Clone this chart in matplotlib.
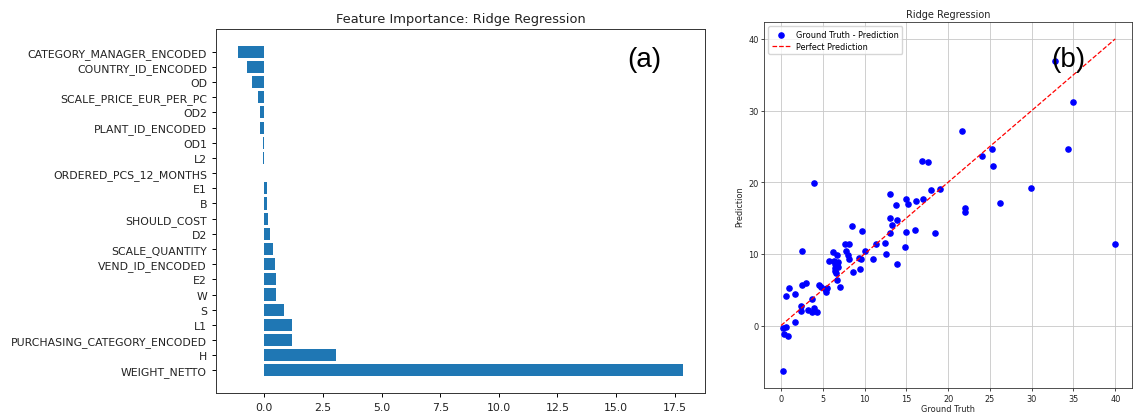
import matplotlib
matplotlib.use("Agg")
import matplotlib.pyplot as plt
import numpy as np

# Ridge regression coefficients (top to bottom)
features = [
    "CATEGORY_MANAGER_ENCODED", "COUNTRY_ID_ENCODED", "OD", "SCALE_PRICE_EUR_PER_PC",
    "OD2", "PLANT_ID_ENCODED", "OD1", "L2", "ORDERED_PCS_12_MONTHS", "E1", "B",
    "SHOULD_COST", "D2", "SCALE_QUANTITY", "VEND_ID_ENCODED", "E2", "W", "S", "L1",
    "PURCHASING_CATEGORY_ENCODED", "H", "WEIGHT_NETTO",
]
coefficients = [
    -1.12, -0.75, -0.51, -0.26, -0.20, -0.19, -0.08, -0.07, 0.0, 0.12, 0.13,
    0.16, 0.24, 0.38, 0.46, 0.51, 0.50, 0.85, 1.17, 1.19, 3.04, 17.85,
]

# Test-set ground truth vs. prediction
ground_truth = [
    32.8, 35.0, 21.6, 34.4, 25.3, 24.0, 25.4, 29.9, 26.2, 22.0, 22.0, 40.0,
    4.0, 16.9, 17.6, 17.9, 19.0, 13.0, 14.9, 15.2, 16.1, 17.0, 13.8, 13.0,
    13.9, 13.3, 13.0, 14.9, 16.0, 18.4, 9.7, 11.4, 12.5, 14.8, 10.0, 12.6,
    11.0, 13.9, 2.5, 8.5, 7.7, 8.1, 7.8, 6.2, 6.7, 8.0, 8.1, 9.3, 9.6,
    5.8, 6.3, 6.8, 6.5, 6.4, 6.7, 6.85, 6.45, 6.6, 9.4, 8.65, 6.75, 7.0,
    4.5, 4.75, 5.3, 5.4, 5.5, 3.0, 2.5, 0.9, 1.66, 0.63, 3.75, 2.37, 2.37,
    3.2, 3.65, 4.0, 4.3, 1.73, 0.25, 0.6, 0.4, 0.8, 0.27,
]
prediction = [
    36.9, 31.2, 27.1, 24.6, 24.7, 23.6, 22.3, 19.2, 17.1, 16.4, 15.8, 11.4,
    19.9, 23.0, 22.8, 18.9, 19.0, 18.4, 17.7, 17.0, 17.4, 17.6, 16.8, 15.0,
    14.7, 14.0, 12.9, 13.1, 13.4, 12.9, 13.2, 11.4, 11.5, 10.9, 10.4, 10.0,
    9.25, 8.65, 10.4, 13.9, 11.4, 11.4, 10.4, 10.2, 9.9, 9.8, 9.3, 9.45, 9.3,
    9.0, 9.0, 8.85, 8.6, 8.0, 8.45, 8.2, 7.6, 7.3, 7.9, 7.5, 6.3, 5.35,
    5.6, 5.4, 5.05, 4.7, 5.2, 6.0, 5.65, 5.2, 4.45, 4.1, 3.7, 2.7, 2.05,
    2.2, 1.9, 2.5, 1.85, 0.5, -0.35, -0.25, -1.2, -1.4, -6.4,
]
line_range = [0, 40]

fig = plt.figure(figsize=(11.33, 4.14), dpi=100)

# Feature importance panel
ax1 = fig.add_axes([0.1906, 0.0483, 0.4316, 0.879])
ypos = np.arange(len(features))
ax1.barh(ypos, coefficients, color="#1f77b4", height=0.8)
ax1.set_yticks(ypos)
ax1.set_yticklabels(features)
ax1.invert_yaxis()
ax1.set_title("Feature Importance: Ridge Regression", fontsize=9.4, pad=5, color="#222222")
ax1.tick_params(labelsize=7.8, width=0.7, length=3, labelcolor="#222222")
for s in ax1.spines.values():
    s.set_linewidth(0.7)
    s.set_color("#333333")

# Scatter panel
ax2 = fig.add_axes([0.6746, 0.0604, 0.3245, 0.8833])
ax2.scatter(ground_truth, prediction, color="blue", s=14, label="Ground Truth - Prediction", zorder=3)
ax2.plot(line_range, line_range, "r--", linewidth=0.9, label="Perfect Prediction", zorder=3)
ax2.set_title("Ridge Regression", fontsize=7.0, pad=4, color="#222222")
ax2.set_xlabel("Ground Truth", fontsize=5.9, labelpad=1, color="#222222")
ax2.set_ylabel("Prediction", fontsize=5.9, labelpad=3, color="#222222")
ax2.tick_params(labelsize=5.9, width=0.5, length=2.2, pad=2, labelcolor="#222222")
ax2.set_xticks(np.arange(0, 41, 5))
ax2.set_yticks(np.arange(0, 41, 10))
ax2.grid(True, linewidth=0.6, color="#c8c8c8")
ax2.set_axisbelow(True)
ax2.legend(loc="upper left", fontsize=5.9, handlelength=2.2, borderpad=0.4, labelspacing=0.35)
for s in ax2.spines.values():
    s.set_linewidth(0.6)
    s.set_color("#333333")

fig.text(0.569, 0.855, "(a)", fontsize=20, family="Liberation Sans", ha="center", va="center")
fig.text(0.943, 0.855, "(b)", fontsize=20, family="Liberation Sans", ha="center", va="center")

fig.savefig("out.png", dpi=100)
